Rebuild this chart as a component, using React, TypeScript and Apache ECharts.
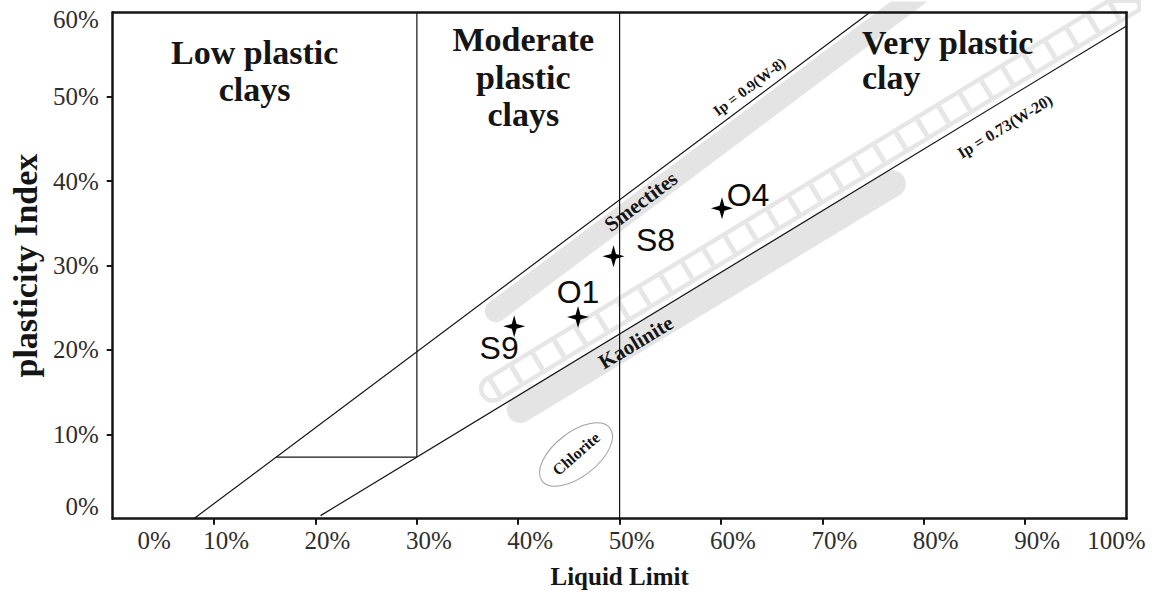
import React, { useEffect, useRef } from 'react';
import * as echarts from 'echarts';

// Sample measurements (Atterberg limits, %)
const sampleNames = ['S9', 'O1', 'S8', 'O4'];
const liquidLimit = [39.6, 45.9, 49.4, 60.1];
const plasticityIndex = [22.8, 23.9, 31.1, 36.8];
// where each sample name sits relative to its marker (px)
const sampleLabelOffsets: [number, number][] = [[-15, 22], [0, -25], [42, -16], [26, -13]];

const xTickValues = [0, 10, 20, 30, 40, 50, 60, 70, 80, 90, 100];
const yTickValues = [0, 10, 20, 30, 40, 50, 60];

// Boundary lines: Ip = slope * (W - shift)
const upperLineSlope = 0.9;
const upperLineShift = 8;
const upperLineRange = [8, 74.67];
const lowerLineSlope = 0.73;
const lowerLineShift = 20;
const lowerLineRange = [20.5, 100];

// Plasticity class boundaries
const lowClassCap = [[16.1, 7.3], [30, 7.3]];
const lowModerateBoundary = [[30, 7.3], [30, 60]];
const moderateVeryBoundary = [[50, 0], [50, 60]];

// Clay mineral zones (centre lines of the bands)
const smectiteZone = [[37.8, 24.6], [80, 62.6]];
const hatchedZone = [[37.5, 15.4], [105, 64.7]];
const kaoliniteZone = [[40.2, 12.95], [76.9, 39.7]];
const chloriteZone = [[45.7, 7.6]];

// Class titles
const classTitles = ['Low plastic\nclays', 'Moderate\nplastic\nclays', 'Very plastic\nclay'];
const classTitleW = [14.0, 40.5, 73.9];
const classTitleIp = [53.1, 52.35, 54.4];
const classTitleAlign = ['center', 'center', 'left'];
const classTitleLineHeight = [37, 37.5, 35];

// Rotated annotations: 'upper' / 'lower' follow a boundary line, numbers are degrees
const noteTexts = ['Ip = 0.9(W-8)', 'Ip = 0.73(W-20)', 'Smectites', 'Kaolinite', 'Chlorite'];
const noteW = [62.8, 88.0, 52.1, 51.6, 45.7];
const noteIp = [51.2, 46.5, 37.6, 20.9, 7.7];
const noteSizes = [15, 16, 21, 21, 16];
const noteAngles: (string | number)[] = ['upper', 'lower', 'upper', 'lower', 41];

const SERIF = '"Liberation Serif", "Times New Roman", serif';
const SANS = '"Liberation Sans", Arial, sans-serif';
const INK = '#151515';
const TICK_TEXT = '#2e2e2e';
const BAND = '#e4e4e4';
const LADDER = '#e6e6e6';

const STAR =
  'path://M10,0 L12.2,7.8 L20,10 L12.2,12.2 L10,20 L7.8,12.2 L0,10 L7.8,7.8 Z';

function boundary(slope: number, shift: number, range: number[]) {
  return range.map((w) => [w, slope * (w - shift)]);
}

function segment(data: number[][], z: number, style: any) {
  return {
    type: 'line',
    data,
    symbol: 'none',
    silent: true,
    z,
    clip: true,
    lineStyle: style,
  };
}

export default function App() {
  const ref = useRef<HTMLDivElement>(null);

  useEffect(() => {
    if (!ref.current) return;
    const chart = echarts.init(ref.current, null, { renderer: 'svg' });

    const lineAngle = (api: any, slope: number, shift: number) => {
      const a = api.coord([20, slope * (20 - shift)]);
      const b = api.coord([70, slope * (70 - shift)]);
      return Math.atan2(a[1] - b[1], b[0] - a[0]);
    };

    const tickText = { fontFamily: SERIF, fontSize: 25, color: TICK_TEXT };
    const thinLine = { color: INK, width: 1.2 };

    const option: any = {
      animation: false,
      backgroundColor: '#ffffff',
      grid: { left: 111.5, right: 31.5, top: 12.5, bottom: 75.3, containLabel: false },
      xAxis: [
        {
          type: 'value',
          min: 0,
          max: 100,
          interval: 10,
          name: 'Liquid Limit',
          nameLocation: 'middle',
          nameGap: 45,
          nameTextStyle: { fontFamily: SERIF, fontWeight: 'bold', fontSize: 25, color: INK },
          axisLine: { show: true, onZero: false, lineStyle: { color: INK, width: 2.5 } },
          axisTick: {
            show: true,
            length: 6,
            customValues: xTickValues.slice(1, -1),
            lineStyle: { color: INK, width: 2 },
          },
          axisLabel: {
            margin: 9,
            hideOverlap: false,
            showMinLabel: true,
            showMaxLabel: true,
            formatter: (v: number) =>
              v === 0 ? `{f|${v}%}` : v === 100 ? `{l|${v}%}` : `{n|${v}%}`,
            rich: {
              n: { ...tickText, padding: [0, 0, 0, 24] },
              f: { ...tickText, padding: [0, 0, 0, 83] },
              l: { ...tickText, padding: [0, 20, 0, 0] },
            },
          },
          splitLine: { show: false },
          z: 10,
        },
        {
          type: 'value',
          position: 'top',
          min: 0,
          max: 100,
          axisLine: { show: true, onZero: false, lineStyle: { color: INK, width: 2.5 } },
          axisTick: { show: false },
          axisLabel: { show: false },
          splitLine: { show: false },
          z: 10,
        },
      ],
      yAxis: [
        {
          type: 'value',
          min: 0,
          max: 60,
          interval: 10,
          name: 'plasticity Index',
          nameLocation: 'middle',
          nameGap: 65,
          nameRotate: 90,
          nameTextStyle: { fontFamily: SERIF, fontWeight: 'bold', fontSize: 34, color: INK },
          axisLine: { show: true, onZero: false, lineStyle: { color: INK, width: 2.5 } },
          axisTick: {
            show: true,
            length: 6,
            customValues: yTickValues.slice(1, -1),
            lineStyle: { color: INK, width: 2 },
          },
          axisLabel: {
            margin: 14,
            formatter: (v: number) =>
              v === 0 ? `{b|${v}%}` : v === 60 ? `{t|${v}%}` : `{n|${v}%}`,
            rich: {
              n: { ...tickText },
              b: { ...tickText, padding: [0, 0, 24, 0] },
              t: { ...tickText, padding: [14, 0, 0, 0] },
            },
          },
          splitLine: { show: false },
          z: 10,
        },
        {
          type: 'value',
          position: 'right',
          min: 0,
          max: 60,
          axisLine: { show: true, onZero: false, lineStyle: { color: INK, width: 2.5 } },
          axisTick: { show: false },
          axisLabel: { show: false },
          splitLine: { show: false },
          z: 10,
        },
      ],
      series: [
        // mineral bands
        segment(smectiteZone, 1, { color: BAND, width: 22, cap: 'round' }),
        segment(kaoliniteZone, 1, { color: BAND, width: 27, cap: 'round' }),
        segment(hatchedZone, 1, { color: LADDER, width: 28, cap: 'round' }),
        segment(hatchedZone, 1, { color: '#ffffff', width: 19, cap: 'round' }),
        segment(hatchedZone, 1, { color: LADDER, width: 19, cap: 'butt', type: [5, 20] }),
        // boundary lines
        segment(boundary(upperLineSlope, upperLineShift, upperLineRange), 3, thinLine),
        segment(boundary(lowerLineSlope, lowerLineShift, lowerLineRange), 3, thinLine),
        segment(lowClassCap, 3, thinLine),
        segment(lowModerateBoundary, 3, thinLine),
        segment(moderateVeryBoundary, 3, thinLine),
        // chlorite outline
        {
          type: 'custom',
          silent: true,
          z: 4,
          data: chloriteZone,
          renderItem: (params: any, api: any) => {
            const p = api.coord([api.value(0), api.value(1)]);
            return {
              type: 'ellipse',
              x: p[0],
              y: p[1],
              rotation: (38 * Math.PI) / 180,
              shape: { cx: 0, cy: 0, rx: 43, ry: 22 },
              style: { fill: 'none', stroke: '#a0a0a0', lineWidth: 1 },
            };
          },
        },
        // class titles
        {
          type: 'custom',
          silent: true,
          z: 5,
          data: classTitleW.map((w, i) => [w, classTitleIp[i]]),
          renderItem: (params: any, api: any) => {
            const i = params.dataIndex;
            const p = api.coord([api.value(0), api.value(1)]);
            return {
              type: 'text',
              x: p[0],
              y: p[1],
              style: {
                text: classTitles[i],
                fontFamily: SERIF,
                fontWeight: 'bold',
                fontSize: 34,
                lineHeight: classTitleLineHeight[i],
                fill: INK,
                align: classTitleAlign[i],
                verticalAlign: 'middle',
              },
            };
          },
        },
        // rotated notes
        {
          type: 'custom',
          silent: true,
          z: 5,
          data: noteW.map((w, i) => [w, noteIp[i]]),
          renderItem: (params: any, api: any) => {
            const i = params.dataIndex;
            const p = api.coord([api.value(0), api.value(1)]);
            const a = noteAngles[i];
            const rotation =
              a === 'upper'
                ? lineAngle(api, upperLineSlope, upperLineShift)
                : a === 'lower'
                ? lineAngle(api, lowerLineSlope, lowerLineShift)
                : ((a as number) * Math.PI) / 180;
            return {
              type: 'text',
              x: p[0],
              y: p[1],
              rotation,
              style: {
                text: noteTexts[i],
                fontFamily: SERIF,
                fontWeight: 'bold',
                fontSize: noteSizes[i],
                fill: INK,
                align: 'center',
                verticalAlign: 'middle',
              },
            };
          },
        },
        // samples
        {
          type: 'scatter',
          z: 6,
          symbol: STAR,
          symbolSize: 22,
          itemStyle: { color: '#000000', opacity: 1 },
          label: {
            show: true,
            position: 'inside',
            formatter: '{b}',
            fontFamily: SANS,
            fontSize: 32,
            color: '#0d0d0d',
          },
          emphasis: { disabled: true },
          data: sampleNames.map((n, i) => ({
            name: n,
            value: [liquidLimit[i], plasticityIndex[i]],
            label: { offset: sampleLabelOffsets[i], color: '#0d0d0d' },
          })),
        },
      ],
    };

    chart.setOption(option);
    return () => chart.dispose();
  }, []);

  return (
    <div
      ref={ref}
      style={{ position: 'absolute', left: 0, top: 0, width: 1158, height: 594, background: '#fff' }}
    />
  );
}
